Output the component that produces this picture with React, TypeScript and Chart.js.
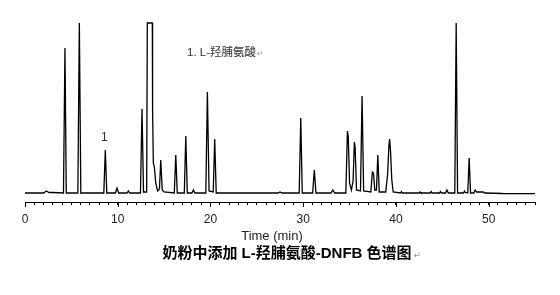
import React, { useEffect, useRef } from 'react';
import { Chart, registerables } from 'chart.js';

Chart.register(...registerables);

// Retention time (min) and detector signal (arbitrary units)
const times = [
  0.0, 2.0, 2.3, 2.6, 3.0,
  4.15, 4.31, 4.45,
  5.7, 5.86, 6.02,
  8.5, 8.66, 8.82,
  9.75, 9.92, 10.1,
  11.0, 11.15, 11.3,
  12.45, 12.62, 12.78,
  13.12, 13.19, 13.73, 13.76, 13.84, 13.95, 14.1, 14.3, 14.5, 14.64, 14.8, 15.0,
  16.1, 16.26, 16.42,
  17.18, 17.34, 17.5,
  18.0, 18.16, 18.32,
  19.5, 19.67, 19.85,
  20.3, 20.46, 20.62,
  27.3, 27.5, 27.7,
  29.57, 29.74, 29.9,
  31.02, 31.2, 31.38,
  33.0, 33.2, 33.4,
  34.6, 34.77, 34.86, 35.0, 35.2, 35.38, 35.52, 35.6, 35.75,
  36.18, 36.35, 36.52,
  37.3, 37.46, 37.58, 37.72, 37.9, 38.05, 38.2,
  38.9, 39.1, 39.25, 39.32, 39.42, 39.55, 39.7,
  40.5, 40.6, 40.7,
  42.5, 42.6, 42.7,
  43.7, 43.8, 43.9,
  44.7, 44.8, 44.9,
  45.35, 45.5, 45.65,
  46.35, 46.5, 46.65,
  47.3, 47.4, 47.5,
  47.75, 47.9, 48.05,
  48.4, 48.55, 48.7, 49.4, 49.6,
  51.5, 55.0,
];

const signal = [
  0, 0, 2, 0.5, 0.5,
  0, 145, 0,
  0, 170, 0,
  0, 43, 0,
  0, 5, 0,
  0, 2, 0,
  0, 84, 1,
  1, 170, 170, 83, 30, 26, 10, 2, 4, 33, 3, 1,
  0, 38, 0,
  0, 57, 0,
  0, 3, 0,
  0, 101, 2,
  1, 54, 0,
  0, 1, 0,
  0, 75, 0,
  0, 23, 0,
  0, 3, 0,
  0, 62, 57, 10, 3, 12, 51, 46, 3,
  2, 97, 2,
  1, 21, 20, 3, 3, 38, 1,
  1, 18, 48, 54, 42, 14, 1,
  0, 1.5, 0,
  0, 1, 0,
  0, 1.5, 0,
  0, 1.5, 0,
  0, 3, 0,
  0, 170, 0,
  0, 2, 0.5,
  0, 35, 0,
  0, 3, 1, 1, 0,
  -0.5, -0.7,
];

const majorTicks = [0, 10, 20, 30, 40, 50];
const axisTitle = 'Time (min)';
const chartTitle = '奶粉中添加 L-羟脯氨酸-DNFB 色谱图';
const peakLegend = '1. L-羟脯氨酸';
const peakLabel = '1';
const peakLabelTime = 8.66;
const peakLabelHeight = 43;

const LATIN = "'Liberation Sans', Arial, 'Noto Sans CJK SC', sans-serif";
const RET = '\u21B5';

export default function App() {
  const ref = useRef<HTMLCanvasElement>(null);

  useEffect(() => {
    document.body.style.margin = '0';
    const canvas = ref.current;
    if (!canvas) return;

    const textPlugin = {
      id: 'chromText',
      afterDraw(chart: any) {
        const ctx = chart.ctx as CanvasRenderingContext2D;
        const xs = chart.scales.x;
        const ys = chart.scales.y;
        const bottom = chart.chartArea.bottom;
        ctx.save();
        // longer major ticks
        ctx.strokeStyle = '#000';
        ctx.lineWidth = 1;
        for (const v of majorTicks) {
          const px = Math.round(xs.getPixelForValue(v)) + 0.5;
          ctx.beginPath();
          ctx.moveTo(px, bottom);
          ctx.lineTo(px, bottom + 5);
          ctx.stroke();
        }
        ctx.textBaseline = 'middle';
        // peak number
        ctx.fillStyle = '#333';
        ctx.font = `12px ${LATIN}`;
        ctx.textAlign = 'center';
        ctx.fillText(peakLabel, xs.getPixelForValue(peakLabelTime) - 1, ys.getPixelForValue(peakLabelHeight) - 12);
        // legend of peak
        ctx.textAlign = 'left';
        ctx.font = `11.5px ${LATIN}`;
        const lx = 187;
        const ly = 53;
        ctx.fillText(peakLegend, lx, ly);
        const lw = ctx.measureText(peakLegend).width;
        ctx.fillStyle = '#999';
        ctx.font = `8px 'DejaVu Sans'`;
        ctx.fillText(RET, lx + lw + 1, ly + 1);
        // axis title
        ctx.fillStyle = '#222';
        ctx.font = `13px ${LATIN}`;
        ctx.textAlign = 'center';
        ctx.fillText(axisTitle, 272, 236);
        // chart title
        ctx.fillStyle = '#000';
        ctx.font = `bold 15px ${LATIN}`;
        ctx.textAlign = 'left';
        const tw = ctx.measureText(chartTitle).width;
        const tx = 287 - tw / 2;
        ctx.fillText(chartTitle, tx, 254);
        ctx.fillStyle = '#999';
        ctx.font = `9px 'DejaVu Sans'`;
        ctx.fillText(RET, tx + tw + 2, 256);
        ctx.restore();
      },
    };

    const chart = new Chart(canvas, {
      type: 'scatter',
      data: {
        datasets: [
          {
            data: times.map((t, i) => ({ x: t, y: signal[i] })),
            showLine: true,
            borderColor: '#000',
            borderWidth: 1.3,
            pointRadius: 0,
            tension: 0,
            clip: 3,
          },
        ],
      },
      options: {
        responsive: false,
        animation: false,
        devicePixelRatio: 1,
        layout: { padding: { left: 25, right: 25, top: 22, bottom: 0 } },
        plugins: { legend: { display: false }, tooltip: { enabled: false }, title: { display: false } },
        scales: {
          x: {
            type: 'linear',
            min: 0,
            max: 55,
            position: 'bottom',
            grid: { display: true, drawOnChartArea: false, drawTicks: true, tickLength: 3, color: '#000', tickColor: '#000' },
            border: { display: true, color: '#000', width: 1 },
            ticks: {
              stepSize: 1,
              autoSkip: false,
              maxRotation: 0,
              padding: 7,
              color: '#222',
              font: { size: 12, family: LATIN },
              callback: (v: any) => (Number(v) % 10 === 0 ? String(v) : ''),
            },
            afterFit: (s: any) => {
              s.height = 93;
            },
          },
          y: { display: false, min: -9, max: 171 },
        },
      },
      plugins: [textPlugin],
    });
    return () => chart.destroy();
  }, []);

  return (
    <div style={{ width: 560, height: 295, background: '#fff' }}>
      <canvas ref={ref} width={560} height={295} style={{ display: 'block' }} />
    </div>
  );
}
